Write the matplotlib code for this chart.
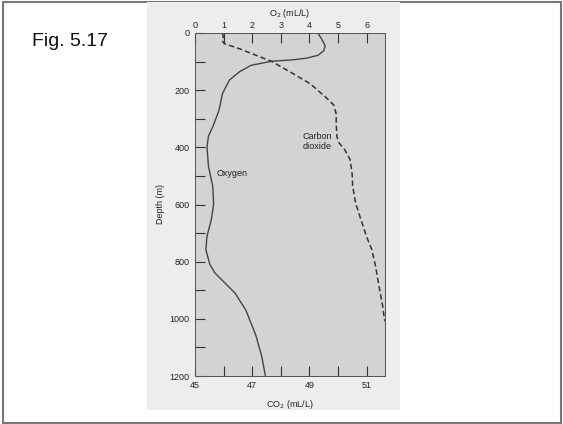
import matplotlib.pyplot as plt
from matplotlib.patches import Rectangle

plt.rcParams['font.family'] = ['Liberation Sans', 'DejaVu Sans']

# oxygen profile (O2 in mL/L vs depth in m)
o2_depth = [0, 20, 45, 62, 78, 88, 94, 99, 113, 136, 165, 212, 270, 326, 361, 399,
            466, 536, 600, 653, 711, 758, 810, 840, 860, 885, 910, 970, 1059, 1130, 1200]
o2_value = [4.29, 4.42, 4.55, 4.5, 4.3, 3.9, 3.4, 2.67, 1.96, 1.55, 1.2, 0.96, 0.84,
            0.63, 0.47, 0.42, 0.47, 0.62, 0.65, 0.57, 0.42, 0.38, 0.52, 0.7, 0.9,
            1.15, 1.4, 1.78, 2.13, 2.33, 2.46]

# carbon dioxide profile (CO2 in mL/L vs depth in m)
co2_depth = [0, 14, 26, 37, 55, 99, 136, 177, 223, 252, 281, 328, 363, 385, 408,
             443, 490, 536, 594, 653, 711, 758, 816, 886, 956, 1002, 1010]
co2_value = [45.96, 45.99, 45.94, 46.02, 46.55, 47.67, 48.32, 49.02, 49.55, 49.85,
             49.93, 49.94, 49.96, 50.04, 50.23, 50.42, 50.49, 50.51, 50.61, 50.80,
             50.99, 51.18, 51.31, 51.43, 51.56, 51.62, 51.66]

o2_ticks = [0, 1, 2, 3, 4, 5, 6]
co2_ticks = [45, 46, 47, 48, 49, 50, 51]
co2_labels = ['45', '', '47', '', '49', '', '51']
depth_ticks = list(range(0, 1201, 100))
depth_labels = [str(d) if d % 200 == 0 else '' for d in depth_ticks]

fs = 6.5
tc = '#222222'

fig = plt.figure(figsize=(5.63, 4.24), dpi=100)

# outer frame and scanned panel
fig.patches.append(Rectangle((3 / 563, 1 - 422.5 / 424), 558 / 563, 420.5 / 424,
                             transform=fig.transFigure, facecolor='white',
                             edgecolor='#777777', lw=1.5, zorder=-2))
fig.patches.append(Rectangle((147 / 563, 1 - 410 / 424), 253 / 563, 408 / 424,
                             transform=fig.transFigure, facecolor='#ededed',
                             edgecolor='none', zorder=-1))
fig.text(32 / 563, 1 - 46 / 424, 'Fig. 5.17', fontsize=14, color='#111111')

ax = fig.add_axes([195 / 563, 1 - 376 / 424, 190 / 563, 343 / 424])
ax.set_facecolor('#d3d3d3')
ax.plot(o2_value, o2_depth, color='#444444', lw=1.0)
ax.set_xlim(0, 6.64)
ax.set_ylim(1200, 0)

ax2 = ax.twiny()
ax2.plot(co2_value, co2_depth, color='#333333', lw=1.1, dashes=(3.5, 2))
ax2.set_xlim(45, 51.64)

# twiny moves the first axis to the bottom, so set sides afterwards
ax.xaxis.set_ticks_position('top')
ax.xaxis.set_label_position('top')
ax.set_xticks(o2_ticks)
ax.set_yticks(depth_ticks)
ax.set_yticklabels(depth_labels)
ax.set_xlabel('O$_2$ (mL/L)', fontsize=fs, color=tc, labelpad=3.5)
ax.set_ylabel('Depth (m)', fontsize=fs, color=tc, labelpad=3)
ax.tick_params(axis='x', direction='in', length=7, width=0.8, color='#333333',
               labelsize=fs, labelcolor=tc, pad=2.5)
ax.tick_params(axis='y', direction='in', length=7, width=0.8, color='#333333',
               labelsize=fs, labelcolor=tc, pad=4)

ax2.xaxis.set_ticks_position('bottom')
ax2.xaxis.set_label_position('bottom')
ax2.set_xticks(co2_ticks)
ax2.set_xticklabels(co2_labels)
ax2.set_xlabel('CO$_2$ (mL/L)', fontsize=fs, color=tc, labelpad=6)
ax2.tick_params(axis='x', direction='in', length=7, width=0.8, color='#333333',
                labelsize=fs, labelcolor=tc, pad=3.5)

for a in (ax, ax2):
    for s in a.spines.values():
        s.set_color('#555555')
        s.set_linewidth(0.7)

ax.text(0.75, 492, 'Oxygen', fontsize=fs, color=tc, va='center')
ax.text(3.75, 380, 'Carbon\ndioxide', fontsize=fs, color=tc, va='center',
        linespacing=1.1)

fig.savefig('out.png', dpi=100)
